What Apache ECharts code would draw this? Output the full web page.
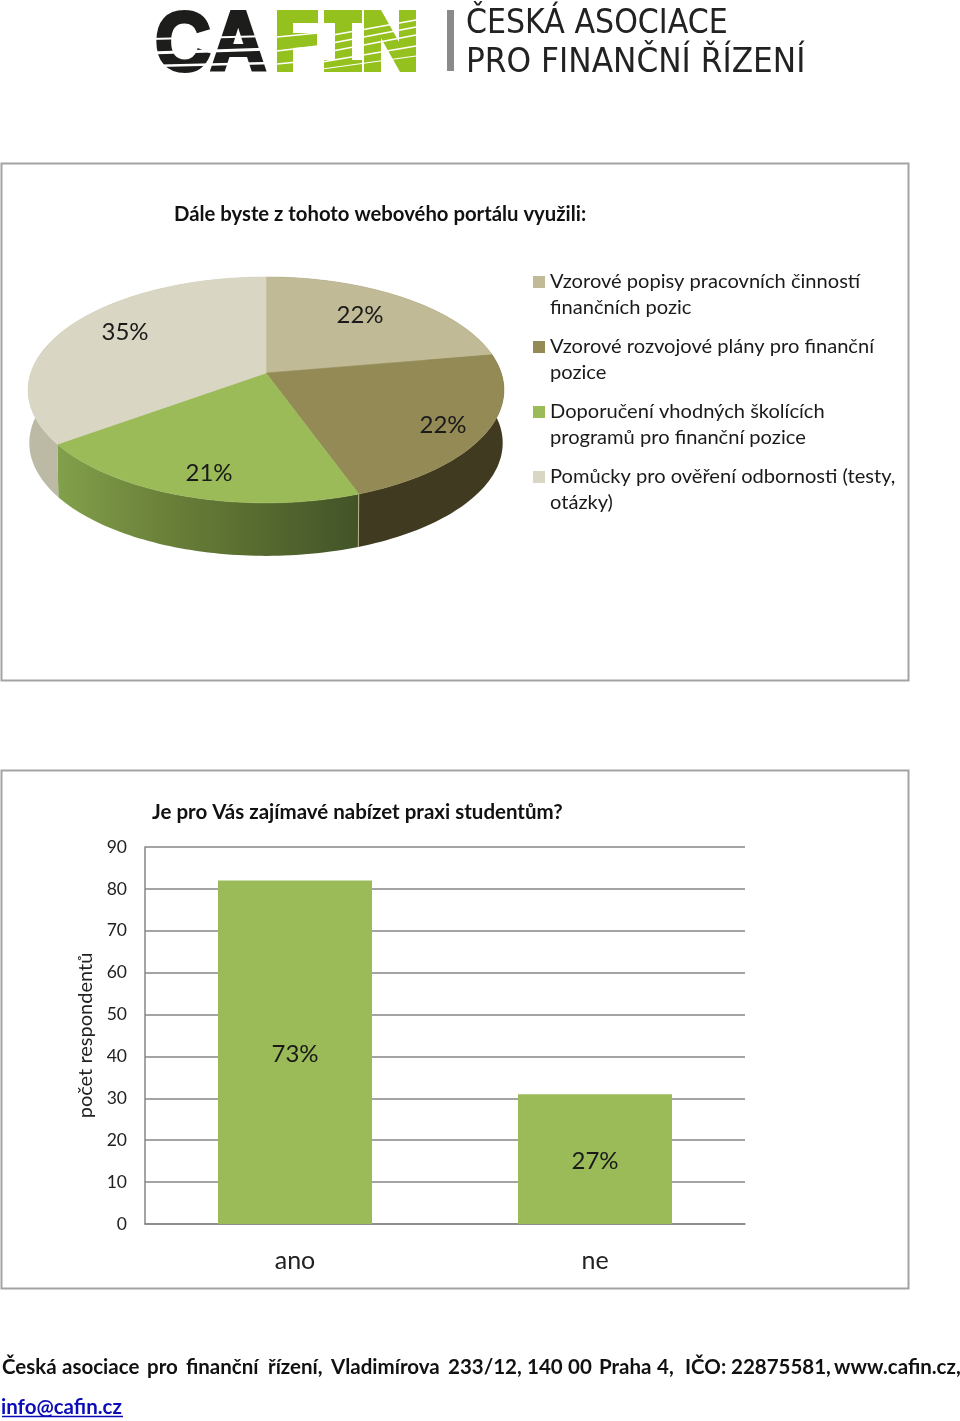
<!DOCTYPE html>
<html><head><meta charset="utf-8">
<style>html,body{margin:0;padding:0;background:#fff}#c{width:960px;height:1421px}</style>
<script src="https://cdn.jsdelivr.net/npm/echarts@6/dist/echarts.min.js"></script>
</head><body><div id="c"></div>
<script>
const pieNames = ['Vzorové popisy pracovních činností\nfinančních pozic','Vzorové rozvojové plány pro finanční\npozice','Doporučení vhodných školících\nprogramů pro finanční pozice','Pomůcky pro ověření odbornosti (testy,\notázky)'];
const pieValues = [22.3,22.2,20.5,35.0];
const pieColors = ['#c0bb96','#938a55','#9bbb59','#d9d6c3'];
const barCategories = ['ano','ne'];
const barValues = [82,31];
const barPercents = ['73%','27%'];
const yTicks = [0,10,20,30,40,50,60,70,80,90];
const footerWords = [['Česká',2],['asociace',62],['pro',147],['finanční',186],['řízení,',268],['Vladimírova',331],['233/12,',448],['140',527],['00',568],['Praha',599],['4,',657],['IČO:',685],['22875581,',731],['www.cafin.cz,',834]];

const FONT='Lato, Carlito, sans-serif';
const CX=266,CY=373,AX=235.2,H=110.4,K=0.15,DEPTH=53,BOT=0.995;
const labelPos=[[360,315],[443,425],[209,473],[125,332]];
const legendY=[282,347,412,477];
const wallColors=['#7a7550','#3f3a20',null,'#bcb9a5'];

function ringTop(t){const u=Math.sin(t),v=Math.cos(t),w=1+K*v;return [CX+AX*u/w,CY-H*v/w];}
function ringBot(t){const p=ringTop(t);return [CX+(p[0]-CX)*BOT,p[1]+DEPTH];}
function range(i){const s=pieValues.reduce((a,b)=>a+b,0);let c=0;for(let j=0;j<i;j++)c+=pieValues[j];return [c/s*2*Math.PI,(c+pieValues[i])/s*2*Math.PI];}
function arc(f,a,b){const r=[];const n=60;for(let i=0;i<=n;i++)r.push(f(a+(b-a)*i/n));return r;}

const chart=echarts.init(document.getElementById('c'),null,{renderer:'canvas',width:960,height:1421});

function T(x,y,text,size,o){o=o||{};return {type:'text',x:x,y:y,z:o.z||20,scaleX:o.sx||1,silent:true,style:{text:text,fill:o.fill||'#1a1a1a',stroke:o.stroke||null,lineWidth:o.lw||0,fontFamily:o.family||FONT,fontSize:size,fontWeight:o.weight||'normal',textAlign:o.align||'left',textVerticalAlign:'middle'}};}
function P(points,fill){return {type:'polygon',z:10,silent:true,shape:{points:points},style:{fill:fill}};}
function W(x1,y1,x2,y2,w){return {type:'line',z:11,silent:true,shape:{x1,y1,x2,y2},style:{stroke:'#fff',lineWidth:w}};}
function R(x,y,w,h,fill,stroke,lw){return {type:'rect',silent:true,z:fill==='none'?1:12,shape:{x,y,width:w,height:h},style:{fill:fill,stroke:stroke||null,lineWidth:lw||0}};}

const G='#95c11f',Bk='#1d1d1b';
const graphics=[
 R(1.5,163.5,907,517,'none','#a3a3a3',2),
 R(1.5,770.5,907,518,'none','#a3a3a3',2),
 // logo
 T(155,47,'CA',84,{family:'Liberation Sans',weight:'bold',fill:Bk,stroke:Bk,lw:4,sx:.915,z:10}),
 W(150,39,272,36,2),W(150,53,272,49,3),W(150,66,272,63,2.5),
 P([[277,10],[318,10],[318,23],[293,23],[293,33],[317,33],[317,46],[293,48],[293,72],[277,72]],G),
 P([[324,10],[362,10],[362,23],[352,23],[352,60],[362,60],[362,72],[324,72],[324,60],[335,60],[335,23],[324,23]],G),
 P([[364,10],[381,10],[399,42],[399,10],[416,10],[416,72],[400,72],[381,38],[381,72],[364,72]],G),
 W(277,37,318,33,1.5),W(277,51,318,46,1.5),W(277,64,318,60,1.5),W(322,37,416,20,1.5),W(322,45,416,27,1.5),W(322,53,416,35,1.5),W(322,62,416,46,1.5),W(322,69,416,56,1.2),
 R(447,10,7,61,'#8a8a8a'),
 T(466,24,'ČESKÁ ASOCIACE',34,{family:'DejaVu Sans',fill:'#222',sx:.885}),
 T(466,63,'PRO FINANČNÍ ŘÍZENÍ',34,{family:'DejaVu Sans',fill:'#222',sx:.919}),
 // titles
 T(174,214,'Dále byste z tohoto webového portálu využili:',20.3,{weight:'bold',fill:'#111'}),
 T(152,812,'Je pro Vás zajímavé nabízet praxi studentům?',20.5,{weight:'bold',fill:'#111'}),
 // footer
 T(1,1407,'info@cafin.cz',20.5,{weight:'bold',fill:'#0b0bb8'}),
 {type:'line',z:20,silent:true,shape:{x1:2,y1:1416.5,x2:123,y2:1416.5},style:{stroke:'#0b0bb8',lineWidth:1.5}}
];
footerWords.forEach(w=>graphics.push(T(w[1],1367,w[0],20.5,{weight:'bold',fill:'#111'})));
pieNames.forEach((n,i)=>{
  graphics.push(R(533,legendY[i]-6,12,12,pieColors[i]));
  n.split('\n').forEach((line,j)=>graphics.push(T(550,legendY[i]+j*26,line,20.1,{})));
});

const option={
 animation:false,
 backgroundColor:'#fff',
 grid:{left:145,top:847,width:600,height:377,containLabel:false},
 xAxis:{type:'category',data:barCategories,axisTick:{show:false},axisLine:{lineStyle:{color:'#868686',width:1.5}},axisLabel:{fontFamily:FONT,fontSize:25,color:'#222',margin:24}},
 yAxis:{type:'value',min:yTicks[0],max:yTicks[yTicks.length-1],interval:10,name:'počet respondentů',nameLocation:'middle',nameRotate:90,nameGap:44,nameTextStyle:{fontFamily:FONT,fontSize:20,color:'#222'},
   axisLine:{show:true,lineStyle:{color:'#868686',width:1.5}},axisTick:{show:false},splitLine:{lineStyle:{color:'#868686',width:1.5}},
   axisLabel:{fontFamily:FONT,fontSize:17.5,color:'#222',margin:18}},
 series:[
  {type:'bar',name:'počet respondentů',data:barValues,barWidth:154,itemStyle:{color:'#9bbb59'},silent:true,z:5,
   label:{show:true,position:'inside',offset:[0,2],fontFamily:FONT,fontSize:24,color:'#1a1a1a',formatter:p=>barPercents[p.dataIndex]}},
  {type:'custom',coordinateSystem:'none',silent:true,z:6,data:pieValues,renderItem:(params)=>{
     const i=params.dataIndex,[a,b]=range(i);
     const pts=arc(ringTop,a,b).concat(arc(ringBot,a,b).reverse());
     let fill=wallColors[i];
     if(fill===null)fill=new echarts.graphic.LinearGradient(60,0,360,0,[{offset:0,color:'#81a04b'},{offset:.35,color:'#6b8039'},{offset:.7,color:'#55682f'},{offset:1,color:'#425327'}],true);
     const kids=[{type:'polygon',shape:{points:pts},style:{fill:fill}}];
     if(i===1){const p=ringTop(b),q=ringBot(b);kids.push({type:'line',z2:3,shape:{x1:p[0],y1:p[1],x2:q[0],y2:q[1]},style:{stroke:'#b9b58f',lineWidth:1}});}
     return {type:'group',children:kids};
  }},
  {type:'custom',coordinateSystem:'none',silent:true,z:7,data:pieValues,renderItem:(params)=>{
     const i=params.dataIndex,[a,b]=range(i);
     const pts=[[CX,CY]].concat(arc(ringTop,a,b));
     return {type:'group',children:[
       {type:'polygon',shape:{points:pts},style:{fill:pieColors[i],stroke:pieColors[i],lineWidth:.6}},
       {type:'text',x:labelPos[i][0],y:labelPos[i][1],z2:5,style:{text:Math.round(pieValues[i])+'%',fontFamily:FONT,fontSize:24,fill:'#1a1a1a',textAlign:'center',textVerticalAlign:'middle'}}
     ]};
  }}
 ],
 graphic:{elements:graphics}
};
chart.setOption(option);
</script></body></html>
